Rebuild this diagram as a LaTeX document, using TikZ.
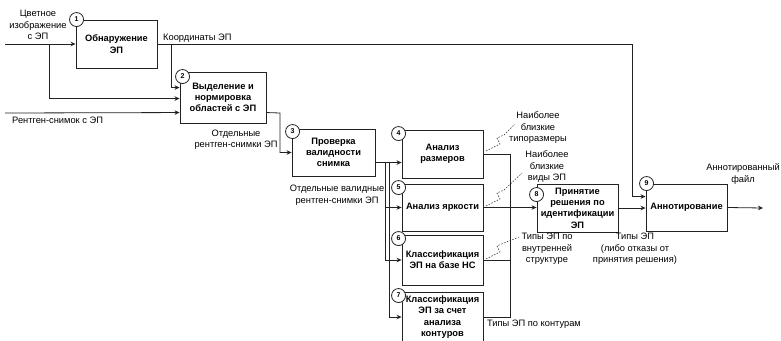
\documentclass[tikz,border=0pt]{standalone}
\usepackage{fontspec}
\setmainfont{Liberation Sans}
\usetikzlibrary{arrows.meta,positioning,calc}
\definecolor{Ink}{HTML}{222222}

\begin{document}
\begin{tikzpicture}[
    x=1pt, y=-1pt,
    font=\fontsize{9.3}{11.5}\selectfont,
    box/.style={draw=Ink, line width=0.9pt, fill=white, align=center, font=\fontsize{9.3}{11.3}\selectfont\bfseries, minimum width=81pt, minimum height=48pt, inner sep=1pt},
    num/.style={circle, draw=Ink, line width=0.8pt, fill=white, inner sep=0pt, minimum size=14pt, font=\fontsize{7}{8}\selectfont\bfseries},
    arrow/.style={-{Stealth[length=5pt,width=4.5pt]}, line width=0.8pt, Ink},
    wire/.style={line width=0.8pt, Ink},
    note/.style={Ink, line width=0.5pt, dash pattern=on 1.5pt off 1.5pt},
    lbl/.style={align=center, inner sep=0pt}
  ]
    \useasboundingbox (0,0) rectangle (781,340);

    % function blocks
    \node[box] (box1) at (116.5,44) {Обнаружение\\ЭП};
    \node[box, minimum width=86pt, minimum height=51pt] (box2) at (223,97.5) {Выделение и\\нормировка\\областей с ЭП};
    \node[box, minimum width=83pt, minimum height=47pt] (box3) at (333.5,152.5) {Проверка\\валидности\\снимка};
    \node[box] (box4) at (442.5,154) {Анализ\\размеров};
    \node[box, minimum height=47pt] (box5) at (442.5,207.5) {Анализ яркости};
    \node[box, minimum height=50pt] (box6) at (442.5,260) {Классификация\\ЭП на базе НС};
    \node[box, minimum height=50pt] (box7) at (442.5,317) {Классификация\\ЭП за счет\\анализа\\контуров};
    \node[box] (box8) at (577.5,208) {Принятие\\решения по\\идентификации\\ЭП};
    \node[box, minimum height=47pt] (box9) at (686.5,207.5) {Аннотирование};

    % block numbers
    \node[num] (n1) at ($(box1.north west)+(1,0)$) {1};
    \node[num] (n2) at ($(box2.north west)+(3,5)$) {2};
    \node[num] (n3) at ($(box3.north west)+(1,3)$) {3};
    \node[num] (n4) at ($(box4.north west)+(-3,4)$) {4};
    \node[num] (n5) at ($(box5.north west)+(-3,4)$) {5};
    \node[num] (n6) at ($(box6.north west)+(-3,4)$) {6};
    \node[num] (n7) at ($(box7.north west)+(-3,4)$) {7};
    \node[num] (n8) at ($(box8.north west)+(0,11)$) {8};
    \node[num] (n9) at ($(box9.north west)+(1,0)$) {9};

    % labels
    \node[lbl] (lblColor) at (38,25) {Цветное\\изображение\\с ЭП};
    \node[lbl, anchor=west] (lblXray) at (12,120) {Рентген-снимок с ЭП};
    \node[lbl, anchor=west] (lblCoord) at (163,38) {Координаты ЭП};
    \node[lbl] (lblCrops) at (236,139.5) {Отдельные\\рентген-снимки ЭП};
    \node[lbl] (lblValid) at (337,195) {Отдельные валидные\\рентген-снимки ЭП};
    \node[lbl] (lblSizes) at (538,128) {Наиболее\\близкие\\типоразмеры};
    \node[lbl] (lblViews) at (547,167) {Наиболее\\близкие\\виды ЭП};
    \node[lbl] (lblStruct) at (547,249) {Типы ЭП по\\внутренней\\структуре};
    \node[lbl, anchor=west] (lblContour) at (487,324) {Типы ЭП по контурам};
    \node[lbl] (lblTypes) at (635,249) {Типы ЭП\\(либо отказы от\\принятия решения)};
    \node[lbl] (lblOut) at (743,174) {Аннотированный\\файл};

    % bends and free ends
    \coordinate (srcColor) at (5,44);
    \coordinate (srcXray) at (5,113);
    \coordinate (splitA) at (49,44);
    \coordinate (splitB) at (171,44);
    \coordinate (bendCoord) at (632,44);
    \coordinate (bendCrops) at (280,113);
    \coordinate (splitC) at (385,163);
    \coordinate (splitD) at (389,163);
    \coordinate (joinE) at (510,208);
    \coordinate (outFile) at (763,208);

    \draw[arrow] (srcColor) -- (box1.west);
    \draw[arrow] (splitA) |- ($(box2.north west)+(0,27)$);
    \draw[arrow] (splitB) |- ($(box2.north west)+(0,16)$);
    \draw[arrow] (srcXray) -- ($(box2.north west)+(0,41)$);
    \draw[arrow] (box1.east) -- (bendCoord) |- ($(box9.north west)+(0,13)$);
    \draw[arrow] ($(box2.north east)+(0,41)$) -- (bendCrops) |- (box3.west);
    \draw[arrow] ($(box3.north east)+(0,34)$) -- ($(box4.north west)+(0,33)$);
    \draw[arrow] (splitC) |- (box5.west);
    \draw[arrow] (splitC) |- (box6.west);
    \draw[arrow] (splitD) |- (box7.west);
    \draw[wire] (box4.east) -| (joinE);
    \draw[wire] (box6.east) -| (joinE);
    \draw[wire] (box7.east) -| (joinE);
    \draw[arrow] (box5.east) -- (box5.east -| box8.west);
    \draw[arrow] (box8.east) -- (box8.east -| box9.west);
    \draw[arrow] (box9.east) -- (outFile);

    % call-outs
    \draw[note] (486,151) -- ++(14,-7) -- ++(-3,-6) -- ++(7,-3) -- (515,124);
    \draw[note] (486,206) -- ++(14,-7) -- ++(-3,-6) -- ++(7,-3) -- (522,173);
    \draw[note] (486,259) -- ++(14,-7) -- ++(-3,-6) -- ++(7,-3) -- (519,237);
\end{tikzpicture}
\end{document}
